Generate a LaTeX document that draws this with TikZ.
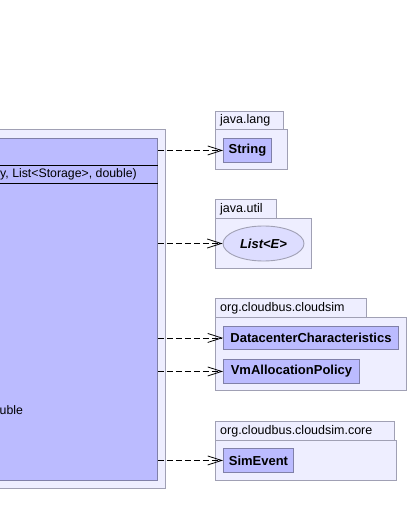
\documentclass[tikz,border=0pt]{standalone}
\usepackage{fontspec}
\setmainfont{Liberation Sans}
\usetikzlibrary{positioning,arrows.meta,shapes.geometric}
\definecolor{clsfill}{RGB}{187,187,255}
\definecolor{pkgfill}{RGB}{238,238,255}
\definecolor{pkgline}{RGB}{160,160,180}
\definecolor{clsline}{RGB}{128,128,168}
\definecolor{ifcfill}{RGB}{221,221,255}
\tikzset{
  pkg/.style={rectangle, draw=pkgline, fill=pkgfill, anchor=north west, inner sep=0pt, line width=0.9pt},
  pkglbl/.style={inner sep=0pt, font=\fontsize{12.5}{14}\selectfont},
  cls/.style={rectangle, draw=clsline, fill=clsfill, anchor=north west, inner sep=0pt, line width=0.9pt,
              font=\bfseries\fontsize{13}{15}\selectfont},
  ifc/.style={ellipse, draw=pkgline, fill=ifcfill, inner sep=0pt, line width=0.9pt,
              font=\bfseries\itshape\fontsize{13}{15}\selectfont},
  member/.style={inner sep=0pt, anchor=west, font=\fontsize{12.3}{14}\selectfont},
  dep/.style={-{Straight Barb[length=14pt, width=9pt]}, dash pattern=on 6pt off 3pt, line width=0.8pt},
}

\begin{document}
\begin{tikzpicture}[x=1pt, y=-1pt]
  \clip (0,0) rectangle (409,526);

  % class being documented (cut at the left border)
  \node[pkg, minimum width=200pt, minimum height=359pt] (pkgMain) at (-35,129) {};
  \node[cls, minimum width=187pt, minimum height=342pt] (main) at (-30,138) {};
  \draw[line width=0.9pt] (main.west |- 0,165) -- (main.east |- 0,165);
  \draw[line width=0.9pt] (main.west |- 0,183) -- (main.east |- 0,183);
  \node[member] (ctor) at (0,174) {y, List<Storage>, double)};
  \node[member] (fld) at (-0.5,410) {uble};

  % java.lang
  \node[pkg, minimum width=68pt, minimum height=18pt] (tabLang) at (215,111) {};
  \node[pkg, minimum width=72pt, minimum height=40pt] (pkgLang) at (215,129) {};
  \node[pkglbl, right=5pt of tabLang.west] {java.lang};
  \node[cls, minimum width=48pt, minimum height=24pt] (str) at (223,138) {String};

  % java.util
  \node[pkg, minimum width=61pt, minimum height=19pt] (tabUtil) at (215,199) {};
  \node[pkg, minimum width=96pt, minimum height=50pt] (pkgUtil) at (215,218) {};
  \node[pkglbl, right=5pt of tabUtil.west] {java.util};
  \node[ifc, minimum width=81pt, minimum height=35pt] (lst) at (263.5,243.5) {List<E>};

  % org.cloudbus.cloudsim
  \node[pkg, minimum width=151pt, minimum height=19pt] (tabSim) at (215,298) {};
  \node[pkg, minimum width=191pt, minimum height=73pt] (pkgSim) at (215,317) {};
  \node[pkglbl, right=5pt of tabSim.west] {org.cloudbus.cloudsim};
  \node[cls, minimum width=175pt, minimum height=23pt] (dcc) at (223,326) {DatacenterCharacteristics};
  \node[cls, minimum width=136pt, minimum height=24pt] (vmap) at (223,359) {VmAllocationPolicy};

  % org.cloudbus.cloudsim.core
  \node[pkg, minimum width=179pt, minimum height=19pt] (tabCore) at (215,421) {};
  \node[pkg, minimum width=181pt, minimum height=40pt] (pkgCore) at (215,440) {};
  \node[pkglbl, right=5pt of tabCore.west] {org.cloudbus.cloudsim.core};
  \node[cls, minimum width=70pt, minimum height=24pt] (evt) at (223,448) {SimEvent};

  % dependencies
  \draw[dep] (str.west -| main.east) -- (str.west);
  \draw[dep] (lst.west -| main.east) -- (lst.west);
  \draw[dep] (dcc.west -| main.east) -- (dcc.west);
  \draw[dep] (vmap.west -| main.east) -- (vmap.west);
  \draw[dep] (evt.west -| main.east) -- (evt.west);
\end{tikzpicture}
\end{document}
